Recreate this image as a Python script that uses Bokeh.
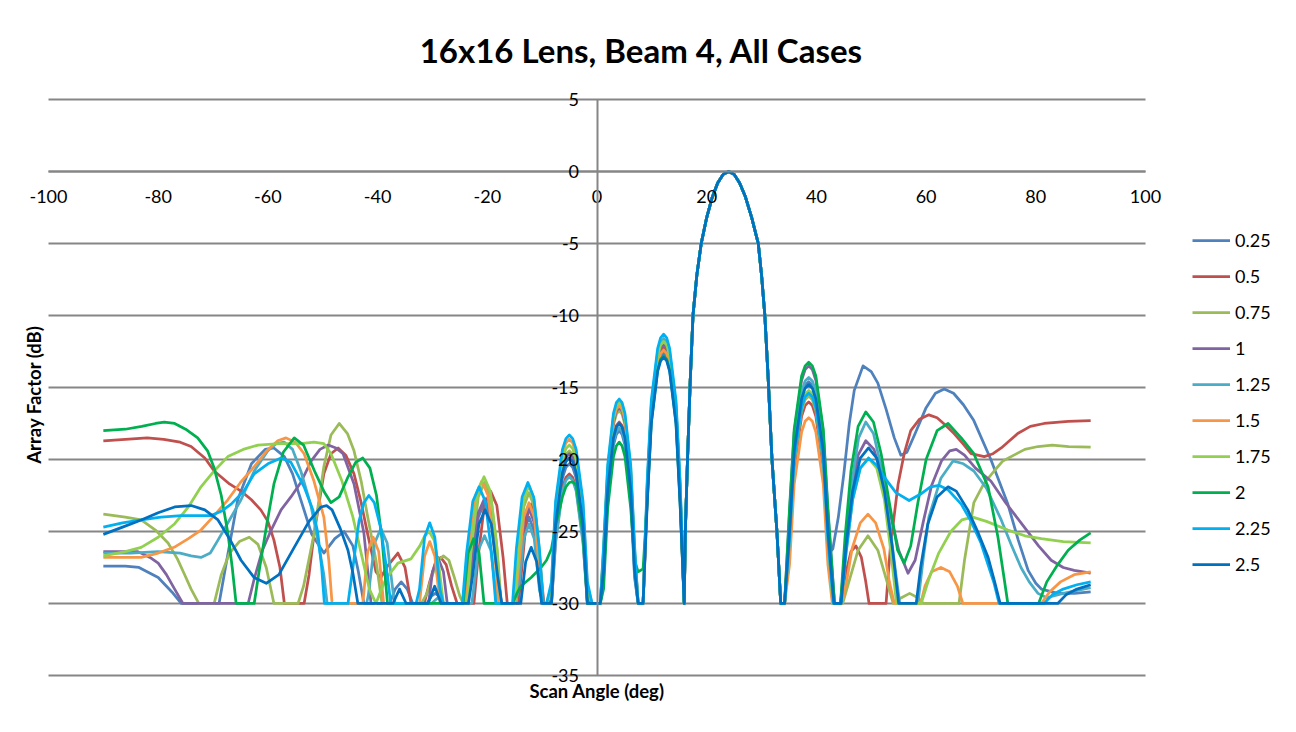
import math
from bokeh.plotting import figure
from bokeh.models import Range1d, FixedTicker, Legend, LegendItem, Label
from bokeh.embed import file_html
from bokeh.resources import INLINE

series_names = ["0.25", "0.5", "0.75", "1", "1.25", "1.5", "1.75", "2", "2.25", "2.5"]
series_colors = ["#4F81BD", "#C0504D", "#9BBB59", "#8064A2", "#4BACC6",
                 "#F79646", "#92D050", "#00B050", "#00B0F0", "#0070C0"]

x_ticks = [-100, -80, -60, -40, -20, 0, 20, 40, 60, 80, 100]
y_ticks = [-35, -30, -25, -20, -15, -10, -5, 0, 5]

# shared angle samples of the central lobes
mid_left_x = [-9.2, -8.3, -7.55, -6.3, -5.67, -5.05, -4.43, -3.8, -2.55, -1.75, -0.9, 0.6, 1.2, 1.95, 3.0,
              3.53, 4.05, 4.57, 5.1, 6.15, 6.85, 7.5, 8.4, 9.15, 9.9, 11.05, 11.59, 12.15, 12.71, 13.25,
              14.4, 15.15]
main_x = [15.9, 16.1, 16.5, 17.0, 17.5, 18.2, 19.0, 20.0, 21.0, 22.0, 23.0, 24.0, 25.0, 26.0, 27.0, 28.2,
          29.4, 30.0, 30.6, 31.2, 31.9, 32.8, 33.5]
main_y = [-30, -25, -20, -14.5, -10, -7.2, -5, -3.2, -1.8, -0.8, -0.2, 0, -0.2, -0.8, -1.7, -3.2,
          -5, -7.2, -10, -14.3, -20, -25, -30]
mid_right_x = [34.2, 35.1, 35.95, 37.3, 37.94, 38.6, 39.26, 39.9, 41.25, 42.1]

# ---- 0.25
s025_left_x = [-90, -86, -83.5, -80, -77.5, -75.8, -68.9, -67.5, -65.5, -63, -60.5, -58.9, -57, -55.5, -54, -52,
               -49.8, -47.8, -46.1, -44.5, -43.5, -42.5, -37.8, -36.8, -35.7, -34.6, -33.6, -31, -30.2, -29.5,
               -28.8, -28, -24.3, -23.54, -22.78, -21.64, -20.5, -19.36, -18.22, -17.46, -16.7, -15.6, -14.96,
               -14.32, -13.36, -12.4, -11.44, -10.48, -9.84]
s025_left_y = [-27.4, -27.4, -27.5, -28.2, -29.2, -30, -30, -27.0, -22.8, -20.3, -19.3, -19.2, -19.8, -21.0, -22.8,
               -25.2, -26.5, -25.5, -25.0, -26.0, -27.8, -30, -30, -29.0, -28.5, -29.0, -30, -30, -29.5, -29.3,
               -29.5, -30, -30, -30, -27.6, -24.0, -23.0, -24.0, -27.6, -30, -30, -30, -30, -28.6, -25.0, -24.0,
               -25.0, -28.6, -30]
s025_midl_y = [-30, -30, -24.9, -21.3, -20.55, -20.3, -20.55, -21.3, -24.9, -30, -30, -30, -28.2, -22.6, -19.0,
               -18.25, -18.0, -18.25, -19.0, -22.6, -28.2, -30, -30, -22.8, -17.2, -13.6, -12.85, -12.6, -12.85,
               -13.6, -17.2, -22.8]
s025_midr_y = [-30, -24.8, -19.2, -15.6, -14.85, -14.6, -14.85, -15.6, -19.2, -26.6]
s025_right_x = [43.0, 44.0, 45.0, 46.0, 46.9, 48.5, 50.0, 51.2, 52.7, 54.2, 55.4, 56.5, 58.0, 60.0, 61.7, 63.3,
                65.0, 66.8, 68.7, 71.8, 74.9, 76.8, 78.6, 80.0, 81.0, 84.0, 87.0, 90.0]
s025_right_y = [-26.2, -24.0, -21.0, -17.5, -15.2, -13.5, -13.9, -14.7, -16.5, -18.5, -19.7, -19.5, -18.2, -16.4,
                -15.4, -15.1, -15.4, -16.2, -17.3, -20.0, -23.1, -25.6, -27.7, -28.6, -29.0, -29.3, -29.3, -29.2]

# ---- 0.5
s050_left_x = [-90, -86, -82, -79, -76, -74, -71.5, -69.8, -67, -64.9, -63, -61.3, -60, -58.9, -57.8, -57, -53.4,
               -52.5, -51.6, -49.8, -48.5, -47.2, -45.8, -44.3, -43, -41.8, -40.3, -39.4, -38.2, -36.3, -35,
               -33.9, -31.5, -30.5, -29.5, -28.5, -27.5, -26.5, -25.5, -23.2, -22.44, -21.68, -20.54, -19.4,
               -18.26, -17.12, -16.36, -15.0, -14.32, -13.74, -12.87, -12.0, -11.13, -10.26, -9.68]
s050_left_y = [-18.7, -18.6, -18.5, -18.6, -18.8, -19.1, -19.9, -20.8, -21.7, -22.2, -22.8, -23.5, -24.3, -25.6,
               -27.5, -30, -30, -28.0, -25.2, -21.0, -19.6, -19.2, -19.7, -21.0, -23.0, -25.2, -27.8, -28.2,
               -27.4, -26.5, -27.5, -30, -30, -28.5, -27.2, -26.8, -27.3, -28.8, -30, -30, -30, -26.8, -23.2,
               -22.2, -23.2, -26.8, -30, -30, -30, -27.7, -24.1, -23.1, -24.1, -27.7, -30]
s050_midl_y = [-30, -30, -25.6, -22.0, -21.25, -21.0, -21.25, -22.0, -25.6, -30, -30, -30, -27.6, -22.0, -18.4,
               -17.65, -17.4, -17.65, -18.4, -22.0, -27.6, -30, -30, -22.4, -16.8, -13.2, -12.45, -12.2, -12.45,
               -13.2, -16.8, -22.4]
s050_midr_y = [-30, -26.2, -20.6, -17.0, -16.25, -16.0, -16.25, -17.0, -20.6, -26.2]
s050_right_x = [43.0, 44.3, 45.3, 46.3, 47.2, 48.2, 49.0, 49.6, 52.7, 53.5, 54.9, 56.0, 57.2, 58.8, 60.5, 62.0,
                63.5, 65.1, 66.7, 68.2, 70.6, 72.2, 73.7, 75.2, 76.7, 79.0, 81.5, 85.9, 90.0]
s050_right_y = [-30, -30, -28.0, -26.4, -26.0, -26.8, -28.5, -30, -30, -26.0, -21.7, -19.6, -18.0, -17.2, -16.9,
                -17.1, -17.6, -18.2, -18.9, -19.6, -19.8, -19.6, -19.2, -18.7, -18.2, -17.7, -17.5, -17.35, -17.3]

# ---- 0.75
s075_left_x = [-90, -86, -83.1, -80.5, -78.2, -76.5, -75.3, -74, -72.6, -69.8, -68.5, -67, -65.2, -63.4, -61.8,
               -60.3, -58.9, -54.5, -53.5, -51.6, -49.8, -48.5, -47, -45.5, -44.3, -43, -41.8, -40.3, -39.2, -32,
               -31, -30, -29, -28, -27, -26, -25, -24.4, -23.54, -22.78, -21.64, -20.5, -19.36, -18.22, -17.46,
               -16.7, -15.6, -14.96, -14.32, -13.36, -12.4, -11.44, -10.48, -9.84]
s075_left_y = [-23.8, -24.0, -24.2, -24.9, -25.8, -26.9, -27.9, -29.0, -30, -30, -28.0, -26.5, -25.7, -25.4,
               -25.9, -27.5, -30, -30, -28.8, -25.2, -20.5, -18.3, -17.5, -18.2, -19.4, -21.5, -24.0, -27.0, -30,
               -30, -29.3, -28.0, -27.0, -26.7, -27.0, -28.2, -29.5, -30, -30, -26.2, -22.6, -21.6, -22.6, -26.2,
               -30, -30, -30, -30, -26.9, -23.3, -22.3, -23.3, -26.9, -30]
s075_midl_y = [-30, -29.6, -24.0, -20.4, -19.65, -19.4, -19.65, -20.4, -24.0, -29.6, -30, -30, -26.8, -21.2, -17.6,
               -16.85, -16.6, -16.85, -17.6, -21.2, -26.8, -30, -30, -22.1, -16.5, -12.9, -12.15, -11.9, -12.15,
               -12.9, -16.5, -22.1]
s075_midr_y = [-30, -25.8, -20.2, -16.6, -15.85, -15.6, -15.85, -16.6, -20.2, -25.8]
s075_right_x = [43.0, 44.8, 46.0, 47.6, 49.4, 51.2, 52.8, 54.0, 55.5, 57.0, 58.5, 59.5, 66.0, 67.0, 68.7, 70.5,
                72.4, 74.0, 76.0, 78.0, 80.4, 83.0, 86.0, 90.0]
s075_right_y = [-30, -30, -28.4, -26.3, -25.3, -26.3, -28.4, -30, -29.6, -29.3, -29.6, -30, -30, -27.0, -23.0,
                -21.7, -20.8, -20.1, -19.7, -19.3, -19.1, -19.0, -19.1, -19.15]

# ---- 1
s100_left_x = [-90, -86, -83.7, -81.5, -80, -78.5, -77, -75.5, -63.6, -62.5, -61, -59.4, -57.6, -55.8, -54, -52.1,
               -50.5, -49, -47.6, -46.3, -44.3, -42.5, -41.2, -30.7, -30, -29, -28, -27.3, -24.3, -23.54, -22.78,
               -21.64, -20.5, -19.36, -18.22, -17.46, -16.7, -15.6, -14.96, -14.32, -13.36, -12.4, -11.44,
               -10.48, -9.84]
s100_left_y = [-26.4, -26.4, -26.4, -26.8, -27.2, -28.0, -29.0, -30, -30, -28.3, -26.3, -24.9, -23.5, -22.6,
               -21.6, -20.1, -19.3, -19.0, -19.2, -19.6, -21.7, -25.1, -30, -30, -27.8, -26.8, -27.8, -30, -30,
               -30, -27.3, -23.7, -22.7, -23.7, -27.3, -30, -30, -30, -30, -28.0, -24.4, -23.4, -24.4, -28.0, -30]
s100_midl_y = [-30, -29.8, -24.2, -20.6, -19.85, -19.6, -19.85, -20.6, -24.2, -29.8, -30, -30, -26.6, -21.0, -17.4,
               -16.65, -16.4, -16.65, -17.4, -21.0, -26.6, -30, -30, -22.2, -16.6, -13.0, -12.25, -12.0, -12.25,
               -13.0, -16.6, -22.2]
s100_midr_y = [-30, -23.7, -18.1, -14.5, -13.75, -13.5, -13.75, -14.5, -18.1, -23.7]
s100_right_x = [43.3, 44.4, 45.2, 46.3, 47.6, 49.0, 50.5, 52.0, 53.5, 55.0, 56.7, 58.0, 59.5, 61.0, 62.8, 64.3,
                65.5, 67.0, 69.0, 71.8, 74.5, 77.9, 80.5, 82.8, 85.0, 87.0, 90.0]
s100_right_y = [-30, -30, -26.5, -22.5, -19.7, -18.7, -19.3, -21.2, -23.8, -26.3, -27.9, -27.0, -24.3, -21.8,
                -20.1, -19.4, -19.3, -19.7, -20.6, -21.5, -23.0, -24.7, -26.0, -27.0, -27.5, -27.7, -27.9]

# ---- 1.25
s125_left_x = [-90, -85, -80, -76, -74, -72.2, -70.5, -69.1, -67, -64.9, -62.5, -60, -58.5, -57, -55.5, -54,
               -52.1, -50.8, -49.8, -49.2, -42.0, -41.68, -40.54, -39.4, -38.26, -37.12, -36.8, -30.2, -29.0,
               -27.8, -22.9, -22.78, -21.64, -20.5, -19.36, -18.22, -18.0, -15.6, -14.96, -14.32, -13.36, -12.4,
               -11.44, -10.48, -9.84]
s125_left_y = [-26.5, -26.5, -26.4, -26.5, -26.7, -26.8, -26.5, -25.6, -24.2, -22.8, -20.8, -19.4, -18.9, -18.8,
               -19.3, -20.8, -23.3, -25.8, -28.0, -30, -30, -29.4, -25.8, -24.8, -25.8, -29.4, -30, -30, -29.6,
               -30, -30, -29.9, -26.3, -25.3, -26.3, -29.9, -30, -30, -30, -29.1, -25.5, -24.5, -25.5, -29.1, -30]
s125_midl_y = [-30, -30, -25.8, -22.2, -21.45, -21.2, -21.45, -22.2, -25.8, -30, -30, -30, -28.0, -22.4, -18.8,
               -18.05, -17.8, -18.05, -18.8, -22.4, -28.0, -30, -30, -21.8, -16.2, -12.6, -11.85, -11.6, -11.85,
               -12.6, -16.2, -21.8]
s125_midr_y = [-30, -24.5, -18.9, -15.3, -14.55, -14.3, -14.55, -15.3, -18.9, -24.5]
s125_right_x = [43.3, 44.5, 45.3, 46.5, 47.7, 49.0, 50.4, 51.8, 53.2, 54.5, 55.2, 58.5, 59.5, 60.5, 62.7, 64.9,
                66.8, 68.7, 71.0, 73.7, 75.5, 77.3, 78.8, 80.4, 82.0, 85.0, 90.0]
s125_right_y = [-30, -30, -26.0, -21.5, -18.5, -17.4, -18.2, -20.5, -24.0, -28.0, -30, -30, -26.8, -24.0, -21.3,
                -20.1, -20.3, -20.8, -22.0, -24.2, -25.9, -27.5, -28.5, -29.3, -29.6, -29.3, -28.9]

# ---- 1.5
s150_left_x = [-90, -86, -83.1, -80, -77.1, -74.5, -72.2, -69.8, -67.3, -65, -62.5, -60.2, -58.2, -56.7, -55,
               -53.4, -51.6, -49.8, -48.9, -48.3, -42.7, -41.8, -40.8, -39.8, -38.9, -32.36, -31.43, -30.5,
               -29.57, -28.64, -24.04, -23.28, -22.14, -21.0, -19.86, -18.72, -17.96, -15.6, -14.96, -14.32,
               -13.36, -12.4, -11.44, -10.48, -9.84]
s150_left_y = [-26.8, -26.8, -26.8, -26.5, -26.1, -25.5, -24.9, -23.9, -22.8, -21.6, -20.5, -19.4, -18.7, -18.5,
               -18.8, -19.6, -21.5, -24.0, -27.0, -30, -30, -26.4, -25.4, -26.4, -30, -30, -26.7, -25.7, -26.7,
               -30, -30, -26.1, -22.5, -21.5, -22.5, -26.1, -30, -30, -30, -27.6, -24.0, -23.0, -24.0, -27.6, -30]
s150_midl_y = [-30, -28.8, -23.2, -19.6, -18.85, -18.6, -18.85, -19.6, -23.2, -28.8, -30, -30, -26.4, -20.9, -17.2,
               -16.5, -16.25, -16.5, -17.2, -20.9, -26.4, -30, -30, -22.6, -17.0, -13.4, -12.65, -12.4, -12.65,
               -13.4, -17.0, -22.6]
s150_midr_y = [-30, -27.3, -21.7, -18.1, -17.35, -17.1, -17.35, -18.1, -21.7, -27.3]
s150_right_x = [42.9, 44.6, 45.5, 46.5, 48.0, 49.4, 50.8, 52.3, 53.3, 54.2, 59.0, 59.8, 61.0, 62.7, 64.3, 65.7,
                66.7, 81.0, 82.5, 84.5, 87.0, 90.0]
s150_right_y = [-30, -30, -28.5, -26.2, -24.4, -23.8, -24.4, -26.2, -28.5, -30, -30, -28.8, -27.8, -27.5, -27.8,
                -28.8, -30, -30, -29.2, -28.5, -28.0, -27.8]

# ---- 1.75
s175_left_x = [-90, -86, -83.1, -80, -77.1, -74.5, -72.2, -69.8, -67.3, -64.5, -61.8, -58, -54, -51.6, -49.8,
               -48.5, -46.5, -44.5, -43, -41.5, -40.3, -39.5, -38.5, -36.3, -33.9, -32.3, -31.4, -30.6, -29.7,
               -28.8, -28.0, -24.3, -23.64, -22.88, -21.74, -20.6, -19.46, -18.32, -17.56, -16.7, -15.6, -14.96,
               -14.32, -13.36, -12.4, -11.44, -10.48, -9.84]
s175_left_y = [-26.7, -26.4, -26.1, -25.4, -24.5, -23.3, -21.9, -20.8, -19.8, -19.3, -19.0, -18.9, -18.9, -18.8,
               -18.9, -19.6, -21.5, -24.0, -26.5, -29.0, -30, -29.2, -28.3, -27.2, -26.9, -26.0, -25.3, -25.0,
               -25.6, -27.5, -30, -30, -30, -25.8, -22.2, -21.2, -22.2, -25.8, -30, -30, -30, -30, -26.4, -22.8,
               -21.8, -22.8, -26.4, -30]
s175_midl_y = [-30, -29.2, -23.6, -20.0, -19.25, -19.0, -19.25, -20.0, -23.6, -29.2, -30, -30, -26.2, -20.6, -17.0,
               -16.25, -16.0, -16.25, -17.0, -20.6, -26.2, -30, -30, -22.0, -16.4, -12.8, -12.05, -11.8, -12.05,
               -12.8, -16.4, -22.0]
s175_midr_y = [-30, -25.4, -19.8, -16.2, -15.45, -15.2, -15.45, -16.2, -19.8, -25.4]
s175_right_x = [43.0, 44.5, 45.4, 46.6, 48.0, 49.5, 51.0, 52.4, 53.6, 54.6, 59.1, 60.5, 62.3, 64.5, 66.5, 68.5,
                71.0, 74.9, 78.0, 81.0, 85.0, 90.0]
s175_right_y = [-30, -30, -26.5, -22.8, -20.6, -19.9, -20.6, -22.8, -26.5, -30, -30, -28.3, -26.5, -25.0, -24.2,
                -24.0, -24.3, -24.9, -25.3, -25.5, -25.7, -25.8]

# ---- 2
s200_left_x = [-90, -86, -83, -80.5, -78.9, -77, -75, -72.8, -71, -69.8, -68.5, -67.3, -66.5, -65.8, -62.5,
               -61.5, -60.2, -58.9, -57.2, -55.2, -53.5, -51.5, -49.8, -48.5, -47, -45.5, -44, -42.7, -41.4,
               -40.2, -39.2, -38.2, -24.4, -23.5, -22.5, -21.5, -20.6, -15.4, -14.6, -13.9, -12.0, -10.2]
s200_left_y = [-18.0, -17.9, -17.7, -17.5, -17.4, -17.5, -17.9, -18.5, -19.4, -20.6, -22.5, -25.1, -27.5, -30,
               -30, -27.5, -24.5, -21.7, -19.5, -18.5, -19.0, -20.8, -22.2, -23.0, -22.6, -21.3, -20.2, -19.9,
               -20.6, -22.5, -25.5, -30, -30, -26.5, -25.5, -26.5, -30, -30, -29.3, -28.8, -28.2, -27.5]
s200_midl_y = [-27.0, -26.2, -24.6, -22.6, -21.9, -21.6, -21.55, -21.8, -25.2, -30, -30, -30, -29.0, -23.4, -19.8,
               -19.05, -18.8, -19.05, -19.8, -23.4, -27.0, -27.8, -27.6, -23.0, -17.4, -13.8, -13.05, -12.8, -13.05,
               -13.8, -17.4, -23.0]
s200_midr_y = [-30, -23.4, -17.9, -14.2, -13.5, -13.25, -13.5, -14.2, -17.9, -23.4]
s200_right_x = [43.3, 44.4, 45.2, 46.3, 47.6, 49.0, 50.4, 51.8, 53.3, 54.8, 56.0, 57.2, 58.5, 60.0, 62.0, 64.0,
                66.4, 68.7, 71.3, 73.1, 74.2, 74.9, 80.5, 82.0, 84.0, 85.9, 88.0, 90.0]
s200_right_y = [-30, -30, -25.5, -20.8, -17.7, -16.7, -17.4, -19.6, -23.0, -26.3, -27.2, -26.0, -23.0, -20.0,
                -18.0, -17.5, -18.5, -19.6, -21.9, -25.4, -28.2, -30, -30, -28.5, -27.3, -26.3, -25.6, -25.1]

# ---- 2.25
s225_left_x = [-90, -86.5, -83.1, -79.5, -75.8, -72, -70.4, -68.5, -66.7, -64.4, -62.5, -60, -57.6, -55.8, -53.4,
               -51.8, -50.9, -50.2, -49.7, -45.4, -44.5, -43.4, -42.5, -41.6, -40.6, -39.4, -38.4, -37.6, -33.6,
               -32.98, -32.36, -31.43, -30.5, -29.57, -28.64, -28.02, -27.4, -25.3, -24.54, -23.78, -22.64, -21.5,
               -20.36, -19.22, -18.46, -17.7, -16.2, -15.4, -14.7, -13.65, -12.6, -11.55, -10.5, -9.8]
s225_left_y = [-24.7, -24.4, -24.2, -24.0, -23.9, -23.9, -23.9, -23.6, -23.1, -22.2, -21.0, -20.3, -19.9, -20.2,
               -21.9, -23.5, -25.1, -27.5, -30, -30, -27.5, -24.3, -23.0, -22.5, -23.0, -24.8, -27.5, -30, -30,
               -30, -29.0, -25.4, -24.4, -25.4, -29.0, -30, -30, -30, -30, -26.5, -22.9, -21.9, -22.9, -26.5, -30,
               -30, -30, -30, -26.2, -22.6, -21.6, -22.6, -26.2, -30]
s225_midl_y = [-30, -28.5, -22.9, -19.3, -18.55, -18.3, -18.55, -19.3, -22.9, -28.5, -30, -30, -26.0, -20.4, -16.8,
               -16.05, -15.8, -16.05, -16.8, -20.4, -26.0, -30, -30, -21.5, -15.9, -12.3, -11.55, -11.3, -11.55,
               -12.3, -15.9, -21.5]
s225_midr_y = [-30, -25.6, -20.0, -16.4, -15.65, -15.4, -15.65, -16.4, -20.0, -25.6]
s225_right_x = [43.1, 44.5, 45.4, 46.6, 48.0, 49.5, 51.0, 52.5, 54.5, 56.9, 59.0, 60.8, 62.4, 64.0, 66.4, 68.2,
                70.0, 72.4, 73.3, 81.5, 83.0, 85.0, 87.5, 90.0]
s225_right_y = [-30, -30, -26.5, -22.8, -20.6, -19.9, -20.4, -21.3, -22.3, -22.85, -22.4, -21.9, -21.8, -22.1,
                -23.1, -24.3, -25.8, -28.6, -30, -30, -29.4, -29.0, -28.7, -28.5]

# ---- 2.5
s250_left_x = [-90, -86.5, -83.1, -80, -77, -74, -71.5, -69.1, -67, -64.9, -62.5, -60.3, -58, -55.2, -52.5, -50.3,
               -49.3, -48.3, -46.8, -45.4, -44.5, -43.6, -37.2, -36.0, -34.8, -30.8, -29.6, -28.4, -24.2, -23.44,
               -22.68, -21.54, -20.4, -19.26, -18.12, -17.36, -16.6, -13.9, -13.0, -12.0, -11.0, -10.1]
s250_left_y = [-25.2, -24.7, -24.2, -23.7, -23.3, -23.2, -23.5, -24.2, -25.5, -27.0, -28.2, -28.6, -28.0, -26.1,
               -24.3, -23.3, -23.2, -23.5, -24.8, -26.3, -27.9, -30, -30, -29.0, -30, -30, -28.8, -30, -30, -30,
               -28.1, -24.5, -23.5, -24.5, -28.1, -30, -30, -30, -27.1, -26.1, -27.1, -30]
s250_midl_y = [-30, -30, -24.5, -20.9, -20.15, -19.9, -20.15, -20.9, -24.5, -30, -30, -30, -27.7, -22.1, -18.5,
               -17.75, -17.5, -17.75, -18.5, -22.1, -27.7, -30, -30, -23.1, -17.5, -13.9, -13.15, -12.9, -13.15,
               -13.9, -17.5, -23.1]
s250_midr_y = [-30, -25.0, -19.4, -15.8, -15.05, -14.8, -15.05, -15.8, -19.4, -25.0]
s250_right_x = [43.2, 44.5, 45.4, 46.6, 48.0, 49.5, 51.0, 52.4, 53.8, 55.0, 58.2, 59.0, 60.3, 62.0, 64.0, 65.5,
                67.6, 69.5, 71.3, 72.5, 73.5, 84.0, 85.5, 87.5, 90.0]
s250_right_y = [-30, -30, -26.0, -22.2, -19.9, -19.2, -19.9, -22.2, -26.0, -30, -30, -27.5, -24.5, -22.6, -21.9,
                -22.2, -23.5, -25.1, -26.8, -28.5, -30, -30, -29.4, -29.0, -28.7]

series_parts = [
    (s025_left_x, s025_left_y, s025_midl_y, s025_midr_y, s025_right_x, s025_right_y),
    (s050_left_x, s050_left_y, s050_midl_y, s050_midr_y, s050_right_x, s050_right_y),
    (s075_left_x, s075_left_y, s075_midl_y, s075_midr_y, s075_right_x, s075_right_y),
    (s100_left_x, s100_left_y, s100_midl_y, s100_midr_y, s100_right_x, s100_right_y),
    (s125_left_x, s125_left_y, s125_midl_y, s125_midr_y, s125_right_x, s125_right_y),
    (s150_left_x, s150_left_y, s150_midl_y, s150_midr_y, s150_right_x, s150_right_y),
    (s175_left_x, s175_left_y, s175_midl_y, s175_midr_y, s175_right_x, s175_right_y),
    (s200_left_x, s200_left_y, s200_midl_y, s200_midr_y, s200_right_x, s200_right_y),
    (s225_left_x, s225_left_y, s225_midl_y, s225_midr_y, s225_right_x, s225_right_y),
    (s250_left_x, s250_left_y, s250_midl_y, s250_midr_y, s250_right_x, s250_right_y),
]

FONT = "Lato"
GRID = "#868686"

# the frame fills the whole canvas; data ranges chosen so that x=-100..100 and y=5..-35
# land where the chart area sits
p = figure(width=1280, height=716, x_range=Range1d(-108.75, 124.61), y_range=Range1d(-37.85, 11.875),
           output_backend="svg", toolbar_location=None,
           min_border_left=0, min_border_right=0, min_border_top=0, min_border_bottom=0)
p.title.visible = False
p.outline_line_color = None
p.background_fill_color = "white"
p.border_fill_color = "white"
p.xgrid.visible = False
p.ygrid.visible = False

# horizontal gridlines over the chart area only
p.segment(x0=[-100] * len(y_ticks), x1=[100] * len(y_ticks), y0=y_ticks, y1=y_ticks,
          line_color=GRID, line_width=2)

for ax, ticks, bnds in ((p.xaxis, x_ticks, (-100, 100)), (p.yaxis, y_ticks, (-35, 5))):
    ax.ticker = FixedTicker(ticks=ticks)
    ax.major_label_overrides = {t: str(t) for t in ticks}
    ax.fixed_location = 0
    ax.bounds = bnds
    ax.axis_line_color = GRID
    ax.axis_line_width = 2
    ax.major_tick_in = 0
    ax.major_tick_out = 0
    ax.minor_tick_line_color = None
    ax.major_label_text_font = FONT
    ax.major_label_text_font_size = "18px"
    ax.major_label_text_color = "black"
p.xaxis.major_label_standoff = 19
p.yaxis.major_label_standoff = 18

items = []
for name, color, parts in zip(series_names, series_colors, series_parts):
    lx, ly, ml, mr, rx, ry = parts
    xs = lx + mid_left_x + main_x + mid_right_x + rx
    ys = ly + ml + main_y + mr + ry
    r = p.line(xs, ys, line_color=color, line_width=2.75, line_join="round")
    items.append(LegendItem(label=name, renderers=[r]))

p.add_layout(Label(x=8.1, y=8.47, text="16x16 Lens, Beam 4, All Cases", text_align="center",
                   text_baseline="middle", text_font=FONT, text_font_size="33px",
                   text_font_style="bold", text_color="black"))
p.add_layout(Label(x=0, y=-36.11, text="Scan Angle (deg)", text_align="center",
                   text_baseline="middle", text_font=FONT, text_font_size="18.5px",
                   text_font_style="bold", text_color="black"))
p.add_layout(Label(x=-102.73, y=-15.49, text="Array Factor (dB)", text_align="center",
                   text_baseline="middle", text_font=FONT, text_font_size="18.5px", angle=math.pi / 2,
                   text_font_style="bold", text_color="black"))

legend = Legend(items=items, location=(1192, 141), orientation="vertical",
                glyph_width=38, glyph_height=20, label_height=20, spacing=14,
                padding=0, margin=0, label_standoff=5,
                label_text_font=FONT, label_text_font_size="18px", label_text_color="black",
                border_line_color=None, background_fill_alpha=0)
p.add_layout(legend, "center")

open("out.html", "w").write(file_html(p, INLINE))
